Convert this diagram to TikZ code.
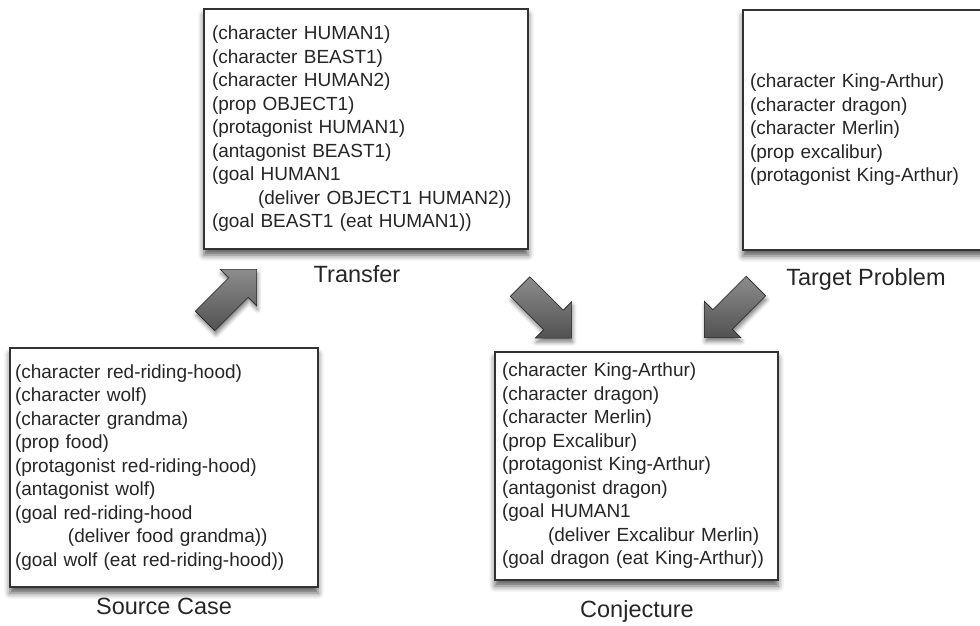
\documentclass[tikz,border=0pt]{standalone}
\usepackage{fontspec}
\setmainfont{Liberation Sans}
\usetikzlibrary{shapes.arrows,shadows.blur}

\begin{document}
\begin{tikzpicture}[x=1pt,y=-1pt,
    frame/.style={draw=black!80, line width=1.4pt, fill=white, align=left, inner ysep=0pt,
        font=\fontsize{19}{23.5}\selectfont, text=black!85,
        blur shadow={shadow xshift=0pt, shadow yshift=-6pt, shadow blur radius=6pt, shadow opacity=65}},
    caption/.style={anchor=base, font=\fontsize{23.5}{28}\selectfont, text=black!85},
    bigarrow/.style={single arrow, draw=black!85, line width=0.6pt, minimum height=73pt,
        single arrow head extend=12pt, inner xsep=0pt, inner ysep=13.5pt,
        top color=black!45, middle color=black!20, bottom color=black!68,
        blur shadow={shadow xshift=1pt, shadow yshift=-4pt, shadow blur radius=4pt, shadow opacity=50}}]
    \useasboundingbox (0,0) rectangle (980,626);
    % Transfer
    \node[frame, minimum height=240pt, text width=308pt, inner xsep=8pt] (transfer) at (366,129)
        {(character HUMAN1)\\(character BEAST1)\\(character HUMAN2)\\(prop OBJECT1)\\
         (protagonist HUMAN1)\\(antagonist BEAST1)\\(goal HUMAN1\\
         \hspace*{46pt}(deliver OBJECT1 HUMAN2))\\(goal BEAST1 (eat HUMAN1))};
    \node[caption] (transferlbl) at (357,282) {Transfer};
    % Target problem
    \node[frame, minimum height=240pt, text width=232pt, inner xsep=7pt] (target) at (866,130)
        {(character King-Arthur)\\(character dragon)\\(character Merlin)\\(prop excalibur)\\
         (protagonist King-Arthur)};
    \node[caption] (targetlbl) at (866,285) {Target Problem};
    % Source case
    \node[frame, minimum height=239pt, text width=298pt, inner xsep=5pt] (source) at (164,467.5)
        {(character red-riding-hood)\\(character wolf)\\(character grandma)\\(prop food)\\
         (protagonist red-riding-hood)\\(antagonist wolf)\\(goal red-riding-hood\\
         \hspace*{53pt}(deliver food grandma))\\(goal wolf (eat red-riding-hood))};
    \node[caption] (sourcelbl) at (164,614) {Source Case};
    % Conjecture
    \node[frame, minimum height=228pt, text width=269pt, inner xsep=7pt] (conjecture) at (636.5,466)
        {(character King-Arthur)\\(character dragon)\\(character Merlin)\\(prop Excalibur)\\
         (protagonist King-Arthur)\\(antagonist dragon)\\(goal HUMAN1\\
         \hspace*{46pt}(deliver Excalibur Merlin)\\(goal dragon (eat King-Arthur))};
    \node[caption] (conjecturelbl) at (637,617) {Conjecture};
    % Arrows
    \node[bigarrow, rotate=45] (upArrow) at (226,300) {};
    \node[bigarrow, rotate=-45] (downArrow) at (541,307.5) {};
    \node[bigarrow, rotate=-135] (leftArrow) at (735,307) {};
\end{tikzpicture}
\end{document}
